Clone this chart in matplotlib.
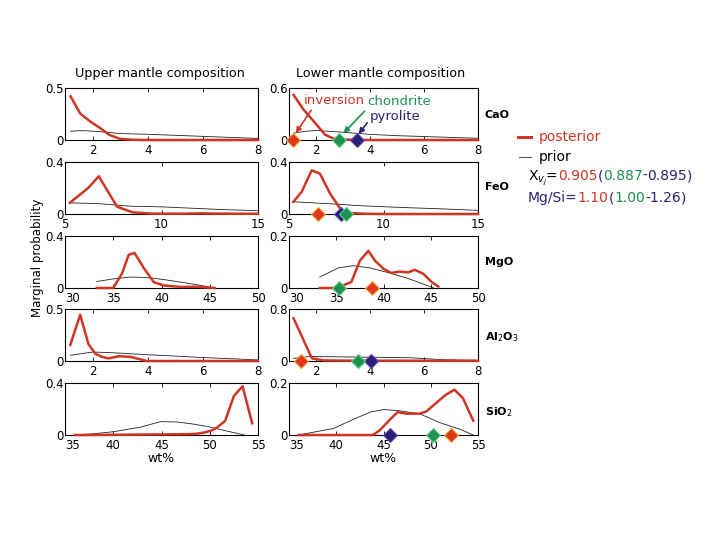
import matplotlib
matplotlib.use("Agg")
import matplotlib.pyplot as plt
from matplotlib.offsetbox import TextArea, HPacker, AnchoredOffsetbox

# ---------------- data ----------------
oxides = ["CaO", "FeO", "MgO", "Al$_2$O$_3$", "SiO$_2$"]
xlims = [(1, 8), (5, 15), (30, 50), (1, 8), (35, 55)]
xticks = [[2, 4, 6, 8], [5, 10, 15], [30, 35, 40, 45, 50], [2, 4, 6, 8], [35, 40, 45, 50, 55]]
ylim_upper = [0.5, 0.4, 0.4, 0.5, 0.4]
ylim_lower = [0.6, 0.4, 0.2, 0.8, 0.2]

# Upper mantle
um_cao_x = [1.2, 1.55, 1.93, 2.3, 2.6, 3.0, 3.5, 4.0, 5.0, 6.0, 7.0, 8.0]
um_cao_post = [0.42, 0.255, 0.175, 0.11, 0.05, 0.01, 0.002, 0, 0, 0, 0, 0]
um_cao_px = [1.2, 1.6, 2.0, 2.5, 3.0, 4.0, 5.0, 6.0, 7.0, 8.0]
um_cao_prior = [0.085, 0.09, 0.085, 0.075, 0.062, 0.055, 0.045, 0.035, 0.025, 0.015]

um_feo_x = [5.25, 6.2, 6.75, 7.7, 8.5, 9.5, 11, 12, 13, 14, 15]
um_feo_post = [0.086, 0.2, 0.29, 0.056, 0.013, 0.003, 0.002, 0.005, 0.003, 0.002, 0.002]
um_feo_px = [5.25, 6.7, 8.4, 10, 11.5, 13, 15]
um_feo_prior = [0.086, 0.08, 0.06, 0.055, 0.045, 0.035, 0.025]

um_mgo_x = [33.3, 35.0, 35.9, 36.6, 37.2, 38.2, 39.2, 40.2, 42, 43.7, 45.5]
um_mgo_post = [0, 0, 0.11, 0.255, 0.27, 0.15, 0.045, 0.02, 0.008, 0.01, 0]
um_mgo_px = [33.3, 35, 36.7, 38, 39.2, 40.5, 42, 43.7, 45.5]
um_mgo_prior = [0.05, 0.07, 0.084, 0.082, 0.075, 0.062, 0.045, 0.025, 0]

um_al_x = [1.19, 1.55, 1.85, 2.1, 2.34, 2.58, 2.95, 3.37, 3.67, 3.97, 5, 6, 7, 8]
um_al_post = [0.154, 0.445, 0.163, 0.07, 0.04, 0.025, 0.046, 0.04, 0.02, 0, 0, 0, 0, 0]
um_al_px = [1.19, 2.0, 2.7, 3.37, 4.0, 4.8, 5.5, 6.3, 7.2, 8.0]
um_al_prior = [0.055, 0.086, 0.08, 0.07, 0.06, 0.05, 0.04, 0.03, 0.02, 0.01]

um_si_x = [36, 38, 40, 42, 44, 46, 48, 48.7, 49.5, 50.2, 50.8, 51.6, 52.5, 53.4, 54.4]
um_si_post = [0, 0, 0.002, 0.003, 0.004, 0.005, 0.007, 0.01, 0.02, 0.035, 0.06, 0.109, 0.30, 0.375, 0.09]
um_si_px = [36, 38, 40, 42.8, 44.9, 46.6, 48.2, 49.8, 51.5, 53.6]
um_si_prior = [0, 0.01, 0.025, 0.06, 0.103, 0.1, 0.085, 0.065, 0.035, 0]

# Lower mantle
lm_cao_x = [1.17, 1.54, 1.97, 2.34, 2.7, 3.2, 4, 5, 6, 7, 8]
lm_cao_post = [0.52, 0.35, 0.196, 0.06, 0.01, 0.003, 0, 0, 0, 0, 0]
lm_cao_px = [1.17, 1.6, 2.0, 2.5, 3.0, 4, 5, 6, 7, 8]
lm_cao_prior = [0.08, 0.1, 0.11, 0.1, 0.09, 0.065, 0.05, 0.04, 0.03, 0.02]

lm_feo_x = [5.23, 5.67, 6.2, 6.64, 7.17, 7.7, 8.05, 9, 10, 12, 15]
lm_feo_post = [0.094, 0.17, 0.336, 0.31, 0.158, 0.044, 0.008, 0.002, 0, 0, 0]
lm_feo_px = [5.23, 7, 9, 11, 13, 15]
lm_feo_prior = [0.094, 0.08, 0.062, 0.05, 0.04, 0.028]

lm_mgo_x = [33.25, 35.0, 36.6, 37.5, 38.4, 39.1, 40.0, 40.8, 41.7, 42.6, 43.3, 44.2, 45.1, 45.8]
lm_mgo_post = [0, 0, 0.023, 0.105, 0.143, 0.105, 0.074, 0.058, 0.063, 0.06, 0.07, 0.055, 0.023, 0.006]
lm_mgo_px = [33.25, 35.2, 36.8, 38.6, 40.4, 42.5, 44.6, 45.3]
lm_mgo_prior = [0.042, 0.077, 0.086, 0.077, 0.06, 0.038, 0.01, 0]

lm_al_x = [1.17, 1.54, 1.85, 2.3, 3, 4, 5, 6, 7, 8]
lm_al_post = [0.656, 0.32, 0.04, 0.01, 0.006, 0.005, 0.005, 0.004, 0.003, 0.003]
lm_al_px = [1.17, 1.78, 3.6, 5.5, 6.7, 8]
lm_al_prior = [0.04, 0.07, 0.06, 0.05, 0.02, 0.01]

lm_si_x = [36, 40, 43.9, 44.6, 45.7, 46.5, 47.4, 48.8, 49.5, 50.6, 51.6, 52.5, 53.4, 54.5]
lm_si_post = [0, 0, 0.0, 0.018, 0.06, 0.088, 0.082, 0.082, 0.09, 0.124, 0.155, 0.174, 0.142, 0.055]
lm_si_px = [36, 39.7, 41.8, 43.6, 45, 46.7, 48.8, 51, 53.1, 54.5]
lm_si_prior = [0, 0.025, 0.06, 0.088, 0.098, 0.093, 0.082, 0.047, 0.022, 0]

# Composition markers (inversion, chondrite, pyrolite) for lower mantle; None = not shown
inversion_vals = [1.14, 6.55, 38.8, 1.45, 52.1]
chondrite_vals = [2.87, 8.0, 35.25, 3.57, 50.2]
pyrolite_vals = [3.51, 7.75, None, 4.04, 45.65]

upper = [(um_cao_x, um_cao_post, um_cao_px, um_cao_prior),
         (um_feo_x, um_feo_post, um_feo_px, um_feo_prior),
         (um_mgo_x, um_mgo_post, um_mgo_px, um_mgo_prior),
         (um_al_x, um_al_post, um_al_px, um_al_prior),
         (um_si_x, um_si_post, um_si_px, um_si_prior)]
lower = [(lm_cao_x, lm_cao_post, lm_cao_px, lm_cao_prior),
         (lm_feo_x, lm_feo_post, lm_feo_px, lm_feo_prior),
         (lm_mgo_x, lm_mgo_post, lm_mgo_px, lm_mgo_prior),
         (lm_al_x, lm_al_post, lm_al_px, lm_al_prior),
         (lm_si_x, lm_si_post, lm_si_px, lm_si_prior)]

RED = "#cf3524"
GREEN = "#1e9150"
NAVY = "#2b1f74"
MRED = "#e0381c"

W, H = 720, 540
fig = plt.figure(figsize=(7.2, 5.4), dpi=100)

row_bottom_px = [140, 214, 288, 361, 435]
row_h_px = 52
left_x0, left_w = 65, 193
right_x0, right_w = 289, 189


def fx(px):
    return px / W


def fy(py):
    return 1 - py / H


def style_axes(ax, xl, xt, ytop):
    ax.set_xlim(*xl)
    ax.set_ylim(0, ytop)
    ax.set_xticks(xt)
    ax.set_xticklabels([str(v) for v in xt])
    ax.set_yticks([0, ytop])
    ax.set_yticklabels(["0", ("%g" % ytop)])
    ax.tick_params(direction="in", length=3, width=0.6, labelsize=8.5, pad=3,
                   top=True, right=False, colors="black")
    ax.tick_params(axis="y", pad=1)
    for lab in ax.get_yticklabels():
        lab.set_verticalalignment("center_baseline")
    # first x label sitting on the left spine starts at the spine (as in the original)
    if xt[0] == xl[0] and len(str(xt[0])) > 1:
        ax.get_xticklabels()[0].set_horizontalalignment("left")
    for s in ax.spines.values():
        s.set_linewidth(0.8)
        s.set_color("black")
    ax.set_facecolor("white")


axes_lower = []
for i in range(5):
    b = row_bottom_px[i]
    axL = fig.add_axes([fx(left_x0), fy(b), fx(left_w), row_h_px / H])
    axR = fig.add_axes([fx(right_x0), fy(b), fx(right_w), row_h_px / H])
    style_axes(axL, xlims[i], xticks[i], ylim_upper[i])
    style_axes(axR, xlims[i], xticks[i], ylim_lower[i])
    for ax, d in ((axL, upper[i]), (axR, lower[i])):
        x, post, px_, prior = d
        ax.plot(px_, prior, color="#222222", lw=0.6, zorder=2)
        ax.plot(x, post, color=RED, lw=1.8, zorder=3, clip_on=False)
    for vals, col, ec, zo in ((pyrolite_vals, NAVY, "#5a4fb0", 4),
                              (inversion_vals, MRED, "#f5a540", 5),
                              (chondrite_vals, GREEN, "#5fcf8a", 5)):
        v = vals[i]
        if v is not None:
            axR.plot([v], [0], marker="D", ms=7, color=col, mec=ec, mew=0.8,
                     clip_on=False, zorder=zo)
    axR.text(1.035, [0.48, 0.52, 0.5, 0.46, 0.44][i], oxides[i], transform=axR.transAxes,
             fontsize=8, fontweight="bold", va="center", ha="left")
    axes_lower.append((axL, axR))
    if i == 4:
        axL.set_xlabel("wt%", fontsize=9, labelpad=0)
        axR.set_xlabel("wt%", fontsize=9, labelpad=0)

# Titles
fig.text(fx(160), fy(74), "Upper mantle composition", ha="center", va="center", fontsize=9.2)
fig.text(fx(381), fy(74), "Lower mantle composition", ha="center", va="center", fontsize=9.2)
fig.text(fx(38), fy(258), "Marginal probability", rotation=90, ha="center", va="center", fontsize=8.5)

# annotations in lower CaO panel
axc = axes_lower[0][1]
axc.annotate("inversion", xy=(1.25, 0.08), xytext=(1.55, 0.45), color=RED, fontsize=9.5,
             va="center", ha="left",
             arrowprops=dict(arrowstyle="-|>", color=RED, lw=1.2, mutation_scale=8,
                             shrinkA=0, shrinkB=0, relpos=(0.15, 0.0)))
axc.annotate("chondrite", xy=(3.02, 0.08), xytext=(3.9, 0.44), color=GREEN, fontsize=9.5,
             va="center", ha="left",
             arrowprops=dict(arrowstyle="-|>", color=GREEN, lw=1.2, mutation_scale=8,
                             shrinkA=0, shrinkB=0, relpos=(0.0, 0.0)))
axc.annotate("pyrolite", xy=(3.58, 0.07), xytext=(4.0, 0.27), color=NAVY, fontsize=9.5,
             va="center", ha="left",
             arrowprops=dict(arrowstyle="-|>", color=NAVY, lw=1.2, mutation_scale=8,
                             shrinkA=0, shrinkB=0, relpos=(0.0, 0.3)))

# Legend-like text
fig.add_artist(plt.Line2D([fx(518), fx(531)], [fy(137), fy(137)], color=RED, lw=2.2))
fig.text(fx(539), fy(137), "posterior", color=RED, fontsize=10, va="center")
fig.add_artist(plt.Line2D([fx(519), fx(531)], [fy(157), fy(157)], color="#555555", lw=0.8))
fig.text(fx(539), fy(157), "prior", color="black", fontsize=10, va="center")

parts1 = [("X$_{v_j}$=", "black"), ("0.905", RED), ("(", NAVY), ("0.887", GREEN),
          ("-", NAVY), ("0.895", NAVY), (")", NAVY)]
parts2 = [("Mg/Si=", NAVY), ("1.10", RED), ("(", NAVY), ("1.00", GREEN),
          ("-1.26", NAVY), (")", NAVY)]


def colored_line(x, y, parts, fs=10):
    areas = [TextArea(s, textprops=dict(color=c, fontsize=fs)) for s, c in parts]
    box = HPacker(children=areas, align="baseline", pad=0, sep=0)
    anch = AnchoredOffsetbox(loc="center left", child=box, pad=0, borderpad=0, frameon=False,
                             bbox_to_anchor=(x, y), bbox_transform=fig.transFigure)
    fig.add_artist(anch)


colored_line(fx(528), fy(178), parts1)
colored_line(fx(528), fy(198), parts2)

fig.savefig("out.png", dpi=100)
